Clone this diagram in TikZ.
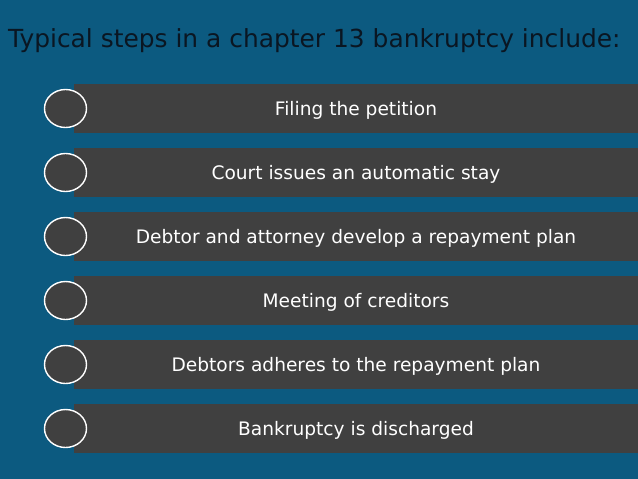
\documentclass[tikz,border=0pt]{standalone}
\usepackage{fontspec}
\setmainfont{DejaVu Sans}
\usepackage{tikz}
\usetikzlibrary{shapes.geometric}
\definecolor{slideblue}{RGB}{12,90,128}
\definecolor{bargray}{RGB}{64,64,64}
\definecolor{titleink}{RGB}{10,22,34}

\begin{document}
\begin{tikzpicture}
[x=1pt,y=-1pt]
\tikzset{bar/.style={rectangle,fill=bargray,minimum width=564pt,minimum height=49pt,
    inner sep=0pt,text=white,font=\fontsize{18.6}{20}\selectfont,text height=13.6pt,text depth=0pt},
  ring/.style={ellipse,draw=white,line width=1.4pt,fill=bargray,minimum width=42pt,
    minimum height=38pt,inner sep=0pt}}
\fill [slideblue] (0,0) rectangle (638,479);
\useasboundingbox (0,0) rectangle (638,479);

\node [anchor=base west,text=titleink,font=\fontsize{24.9}{27}\selectfont,inner sep=0pt] (title) at (8,47)
  {Typical steps in a chapter 13 bankruptcy include:};

\foreach \i/\txt in {1/Filing the petition,
    2/Court issues an automatic stay,
    3/Debtor and attorney develop a repayment plan,
    4/Meeting of creditors,
    5/Debtors adheres to the repayment plan,
    6/Bankruptcy is discharged}
{
  \node [bar] (bar\i) at (356,{108.5+64*(\i-1)}) {\txt};
  \node [ring] (ring\i) at (65.5,{108.5+64*(\i-1)}) {};
}

\end{tikzpicture}
\end{document}
